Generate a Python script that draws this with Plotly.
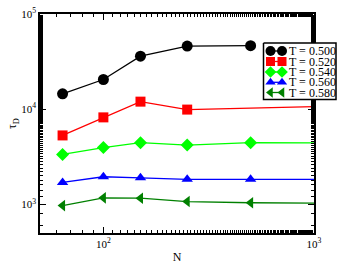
import plotly.graph_objects as go

N_vals = {
    "T = 0.500": [64, 100, 150, 250, 500],
    "T = 0.520": [64, 100, 150, 250, 2000],
    "T = 0.540": [64, 100, 150, 250, 500, 2000],
    "T = 0.560": [64, 100, 150, 250, 500, 2000],
    "T = 0.580": [64, 100, 150, 250, 500, 2000],
}
tau_vals = {
    "T = 0.500": [14500, 20500, 36000, 46000, 46500],
    "T = 0.520": [5300, 8200, 12000, 9900, 11000],
    "T = 0.540": [3350, 3950, 4450, 4200, 4450, 4420],
    "T = 0.560": [1700, 1950, 1900, 1830, 1830, 1830],
    "T = 0.580": [970, 1170, 1160, 1070, 1040, 1020],
}
labels = list(N_vals.keys())
colors = ["black", "#ff0000", "#00ff00", "#0000ff", "#008000"]
symbols = ["circle", "square", "diamond", "triangle-up", "triangle-left"]
x_ticks = [100, 1000]
x_ticktext = ["10<sup>2</sup>", "10<sup>3</sup>"]
y_ticks = [1000, 10000, 100000]
y_ticktext = ["10<sup>3</sup>", "10<sup>4</sup>", "10<sup>5</sup>"]

FONT = "Liberation Serif"
W, H = 342, 268
ML, MR, MT, MB = 40, 0, 14, 35
PLOT_RIGHT = 314  # right edge of the data frame, in pixels
PW = W - ML - MR

fig = go.Figure()
for lab, c, s in zip(labels, colors, symbols):
    fig.add_trace(go.Scatter(
        x=N_vals[lab], y=tau_vals[lab], mode="lines+markers", name=lab,
        line=dict(color=c, width=1.3),
        marker=dict(symbol=s, size=10 if s != "circle" else 11, color=c),
        showlegend=False,
    ))

# compact boxed legend drawn in a pixel-space subplot placed on top of the frame
leg_box_x = [263.5, 336, 336, 263.5, 263.5]
leg_box_y = [43, 43, 99.5, 99.5, 43]
fig.add_trace(go.Scatter(
    x=leg_box_x, y=leg_box_y, xaxis="x2", yaxis="y2", mode="lines",
    fill="toself", fillcolor="white", line=dict(color="black", width=1.5),
    showlegend=False, hoverinfo="skip",
))
leg_rows = [51, 61.5, 72, 82.3, 92.5]
for lab, c, s, yy in zip(labels, colors, symbols, leg_rows):
    fig.add_trace(go.Scatter(
        x=[270.5, 282], y=[yy, yy], xaxis="x2", yaxis="y2",
        mode="lines+markers", line=dict(color=c, width=1.3),
        marker=dict(symbol=s, size=9 if s != "circle" else 10, color=c),
        showlegend=False, cliponaxis=False, hoverinfo="skip",
    ))
    fig.add_annotation(x=286.5, y=yy, xref="x2", yref="y2", text=lab,
                       showarrow=False, xanchor="left", yanchor="middle",
                       font=dict(family=FONT, size=12, color="black"))

axis_common = dict(showgrid=False, zeroline=False, showline=True, linecolor="black",
                   linewidth=1.5, mirror="allticks", ticks="inside", ticklen=6,
                   tickcolor="black", tickwidth=1, automargin=False,
                   tickfont=dict(family=FONT, size=11, color="black"))
fig.update_layout(
    width=W, height=H,
    margin=dict(l=ML, r=MR, t=MT, b=MB),
    plot_bgcolor="rgba(0,0,0,0)", paper_bgcolor="white",
    font=dict(family=FONT, size=12, color="black"),
    xaxis=dict(type="log", range=[1.699, 3.0], tickvals=x_ticks, ticktext=x_ticktext,
               domain=[0, (PLOT_RIGHT - ML) / PW],
               minor=dict(ticks="inside", ticklen=3, tickcolor="black", showgrid=False),
               title=dict(text="N", font=dict(family=FONT, size=12), standoff=4),
               **axis_common),
    yaxis=dict(type="log", range=[2.699, 5.0], tickvals=y_ticks, ticktext=y_ticktext,
               minor=dict(ticks="inside", ticklen=3, tickcolor="black", showgrid=False),
               title=dict(text="τ<sub>D</sub>", font=dict(family=FONT, size=12), standoff=2),
               **axis_common),
    xaxis2=dict(range=[ML, W - MR], domain=[0, 1], visible=False, anchor="y2",
                fixedrange=True),
    yaxis2=dict(range=[H - MB, MT], domain=[0, 1], visible=False, anchor="x2",
                fixedrange=True),
)
fig.write_html("out.html", config={"displayModeBar": False},
               post_script="document.body.style.margin='0';document.body.style.overflow='hidden';")
